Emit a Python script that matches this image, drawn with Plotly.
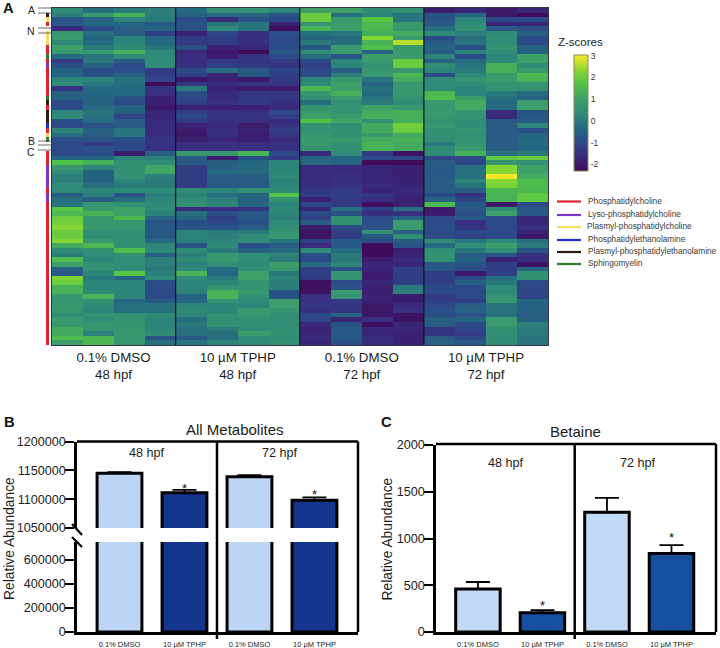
import plotly.graph_objects as go

# ---------- data ----------
z_rows = [
[0.3,-0.2,0.0,0.1,-0.3,0.5,0.6,0.2,1.0,1.0,0.4,0.5,-1.9,-1.7,-2.0,-1.7],
[0.1,0.8,1.4,0.1,-0.5,-0.3,-0.4,-0.8,2.0,-0.2,0.2,-0.1,-0.8,-0.4,-2.0,-2.3],
[-0.8,-0.4,0.2,0.0,-1.0,-1.6,-0.8,-1.0,2.0,0.8,1.8,-0.1,-0.8,0.2,-1.0,-1.0],
[-0.7,-0.3,-0.4,-0.7,-0.8,-0.1,-0.1,-1.8,0.6,0.9,1.5,0.8,-0.7,0.4,-1.7,-1.7],
[-1.6,-1.0,-0.6,-0.4,-0.9,0.3,-0.1,-2.2,1.4,0.9,1.5,0.7,-0.2,0.5,-0.7,-0.9],
[0.7,-0.2,-0.6,-1.2,-1.8,-1.1,-1.5,-0.9,-0.2,-0.1,1.3,1.2,0.3,0.1,0.3,-0.5],
[0.8,-0.4,0.2,-0.4,-1.3,-1.2,-1.5,-1.0,-0.4,-0.3,2.3,0.8,-1.0,-0.2,0.4,-1.0],
[0.3,-0.3,0.2,-0.3,-1.3,-1.2,-1.5,-1.0,0.0,-0.2,1.4,2.6,-0.7,-0.1,0.3,-1.0],
[1.0,0.0,0.3,-0.1,-0.9,-1.8,-1.7,-0.9,-0.7,0.8,1.6,0.8,-0.4,-0.9,0.6,-0.5],
[0.8,0.7,1.3,0.3,-1.7,-2.0,-2.3,-0.7,0.4,0.8,-0.5,0.8,-0.7,0.2,0.4,-0.5],
[-0.3,-0.1,0.3,0.3,-1.5,-1.9,-1.4,-1.0,-0.2,-0.8,0.9,0.8,0.2,-1.0,0.2,1.0],
[-1.3,0.0,-0.6,0.3,-1.6,-1.3,-1.4,-1.3,-1.0,0.2,0.8,2.0,-0.5,-0.3,0.3,1.0],
[-0.9,-0.5,-1.0,0.3,-1.5,-1.2,-1.3,-1.4,-1.2,0.2,0.5,2.0,0.4,-0.1,1.3,0.3],
[-0.5,-1.0,-0.9,-1.3,-1.0,-0.2,-0.7,-1.1,-1.0,-0.6,0.7,0.7,0.2,0.0,1.3,0.8],
[-0.4,-0.8,-0.5,-1.3,-1.2,-1.7,-0.7,-1.2,-1.0,0.1,0.7,1.5,-1.0,0.3,0.8,1.5],
[0.2,0.2,-0.2,-1.1,-2.0,-1.8,-2.0,-1.3,0.2,0.7,-0.1,1.2,0.3,0.6,0.8,1.4],
[0.4,-0.1,-0.2,-2.4,-1.3,-1.6,-1.4,-1.4,0.3,1.0,-0.4,0.7,0.3,0.3,0.6,0.6],
[-1.4,-0.3,-0.3,-1.4,0.0,-1.8,-1.9,-1.9,1.5,0.9,-0.2,0.7,0.3,0.2,0.6,0.6],
[-0.5,-0.4,-0.3,-1.5,-0.9,-1.6,-1.4,-1.4,0.7,1.3,-0.3,0.7,1.5,0.2,0.0,-0.3],
[-0.5,-0.5,-0.8,-1.8,-1.0,-1.6,-1.3,-1.4,0.5,0.8,-0.1,0.6,1.6,0.9,-0.2,-0.5],
[-1.0,-0.5,-1.0,-1.8,-1.2,-1.5,-1.3,-1.5,-0.2,0.5,0.0,0.3,0.8,1.2,-0.3,0.9],
[-1.0,-0.3,-0.5,-2.0,-1.8,-1.8,-1.8,-1.6,0.6,0.6,1.0,0.7,0.7,1.2,-0.3,1.0],
[0.2,-0.1,-0.5,-1.7,-1.2,-1.5,-1.5,-1.0,0.8,0.6,1.2,1.3,0.8,0.6,-1.6,-0.8],
[0.3,-0.2,-1.1,-1.7,-1.0,-1.4,-1.4,-1.2,1.0,0.8,1.3,1.3,0.7,0.6,-1.6,-0.7],
[-0.9,-0.3,-0.6,-1.6,-1.3,-1.5,-1.5,-1.6,1.7,1.1,0.5,1.3,0.6,0.4,-0.7,-0.6],
[-1.0,-0.8,-0.7,-1.6,-1.8,-1.6,-1.9,-1.4,0.6,0.4,1.2,2.1,0.7,0.4,-0.6,0.2],
[0.2,-0.5,-0.1,-1.6,-1.9,-1.5,-1.8,-1.2,0.5,0.5,1.2,2.0,0.5,0.6,-0.6,-0.9],
[-0.2,-0.6,-0.1,-1.6,-2.0,-1.5,-1.9,-1.4,0.7,0.5,0.8,1.2,0.5,0.4,-0.6,-0.4],
[-0.9,-0.8,-0.9,-1.4,-1.8,-1.7,-1.8,-1.6,0.8,0.7,1.2,1.3,0.4,0.6,-0.6,-0.4],
[-1.0,-1.3,-1.1,-1.4,-1.5,-1.5,-1.5,-1.5,0.7,0.5,1.4,1.2,0.0,0.6,-0.6,-0.3],
[-1.0,-0.9,-1.0,-1.5,-1.5,-1.5,-1.5,-1.5,0.6,0.5,1.4,1.2,0.3,0.8,-0.6,-0.4],
[-1.0,-0.9,-1.9,-0.5,0.7,0.7,1.4,-1.0,-1.6,0.3,-1.3,-2.1,0.3,1.3,-0.2,0.0],
[-0.4,-0.4,0.2,0.1,-0.7,-1.9,-0.9,-1.3,-0.4,-0.4,-1.0,-1.1,-1.1,-1.0,1.9,2.0],
[1.7,1.3,0.5,0.4,-0.7,-0.6,-0.4,0.2,-0.3,-0.4,-2.3,-2.4,-0.6,-1.1,0.7,0.5],
[0.7,0.2,0.5,1.1,-1.2,-0.5,-0.3,0.2,-1.6,-1.6,-1.7,-1.8,-0.7,-0.2,2.3,1.0],
[0.3,-0.5,0.5,1.1,-1.2,-0.3,-0.3,0.2,-1.6,-1.6,-1.7,-1.8,-0.7,-0.2,2.3,1.0],
[0.1,-0.5,0.5,0.1,-1.2,-0.6,-0.6,0.3,-1.6,-1.5,-1.7,-1.8,-0.7,-0.2,3.0,1.2],
[0.1,-0.5,0.2,0.0,-1.2,-0.7,-0.6,0.1,-1.6,-1.5,-1.7,-1.8,-0.6,0.2,2.3,1.6],
[0.3,-0.2,0.0,0.0,-1.3,-0.7,-0.7,0.2,-1.5,-1.4,-1.6,-1.7,-0.6,-0.1,2.2,1.6],
[0.3,0.2,0.3,0.3,0.3,0.2,0.5,0.3,-1.4,-1.3,-1.8,-1.6,-0.6,-0.6,1.5,1.5],
[-0.6,0.1,-0.8,0.1,0.2,-0.2,-0.4,1.7,-1.2,-1.2,-1.4,-1.7,-1.0,-1.5,1.4,1.9],
[-0.2,-0.6,-0.2,0.2,0.3,0.1,-0.5,0.6,-1.8,-1.3,-1.5,-1.8,-0.5,-1.1,1.4,1.9],
[-0.1,0.6,0.5,0.3,0.5,0.2,-0.4,0.2,-1.1,-1.3,-2.2,-1.8,1.5,-0.7,-2.0,-1.0],
[1.8,0.8,1.0,0.3,-1.6,-1.6,-1.4,0.3,-1.7,-0.2,-1.2,-0.2,-2.0,-0.7,0.4,-0.7],
[1.5,1.4,1.0,0.1,-0.2,-0.9,-0.7,0.2,-1.0,-0.8,-1.5,-1.5,-1.9,-0.9,1.0,-0.7],
[2.0,0.7,1.5,-0.4,-0.4,-1.2,-0.7,0.1,-1.2,0.5,-1.0,-0.5,-1.0,-0.7,-1.0,-1.7],
[2.1,0.7,0.7,-0.8,-0.9,-1.1,-0.9,0.3,-0.6,0.5,-0.9,0.9,-1.0,-1.5,-1.0,-1.7],
[2.3,0.8,0.7,-0.7,-0.8,-0.8,-0.6,0.4,-1.9,-1.0,-0.8,0.8,-0.9,-1.4,-1.1,-1.5],
[2.0,0.4,0.5,-0.7,0.2,0.0,0.0,0.6,-2.1,-1.2,0.4,-0.5,-1.0,-1.0,-1.0,-1.8],
[2.0,0.4,0.4,-0.7,0.2,0.1,0.3,0.7,-2.1,-1.2,-0.7,0.4,-0.9,-1.2,-1.0,-2.0],
[2.3,0.7,0.5,-0.3,0.1,0.2,0.4,-0.1,-1.2,-0.7,-1.0,-0.6,0.3,-0.1,0.3,-0.2],
[1.2,1.5,0.5,0.2,-0.8,0.3,-0.9,-0.6,-1.6,-0.7,-2.4,-0.8,-0.3,0.4,0.9,0.0],
[0.3,0.5,1.6,0.3,0.3,0.0,-0.5,-0.3,0.3,-0.3,-2.3,-1.9,0.4,-0.1,0.4,-0.8],
[0.1,0.4,0.5,-0.5,0.1,0.7,0.5,0.2,-0.9,0.0,-2.3,-1.7,0.6,-0.6,-0.8,-1.5],
[1.6,0.2,0.4,0.1,0.3,0.8,0.4,0.0,-1.0,0.0,-1.9,-1.6,0.5,-0.5,-1.8,-1.5],
[1.0,0.5,0.4,0.1,0.1,0.4,0.3,0.9,-0.3,0.2,-1.7,-1.7,-0.7,-0.8,-1.2,-2.1],
[-0.5,0.5,0.3,0.0,0.3,-0.3,0.4,0.7,-1.2,-0.8,-1.7,-1.2,-0.7,-1.0,-1.2,-0.4],
[-0.7,0.2,1.8,0.1,1.4,-0.4,1.0,0.0,-1.2,0.6,-1.9,-1.2,-1.2,-2.0,-1.2,0.5],
[2.2,0.0,-0.4,0.3,0.3,0.0,1.0,0.2,-1.3,0.6,-1.9,-1.2,-1.2,-1.0,-0.2,0.5],
[2.0,0.2,0.2,-0.9,0.2,0.2,0.6,0.1,-2.2,-1.0,-1.7,-1.2,-1.2,-0.5,0.0,-1.0],
[1.3,0.2,0.2,-1.0,0.2,0.6,0.6,0.1,-2.2,-0.8,-1.8,0.0,-1.0,-1.0,0.3,-1.1],
[1.4,0.3,0.2,-1.0,0.1,1.4,0.7,-0.9,-2.1,0.8,-1.8,0.1,-1.0,-1.1,0.3,-1.1],
[0.7,1.4,0.2,-1.0,-0.5,1.4,0.5,-0.8,-1.5,0.6,-1.8,-1.9,-1.3,-1.0,0.6,-1.1],
[0.6,0.5,-0.4,-0.7,-0.4,0.5,0.3,0.9,-1.5,-1.3,-1.8,-1.9,-1.2,-1.2,0.7,-0.4],
[0.7,0.3,-0.2,-0.2,0.2,0.2,0.2,0.9,-1.3,-1.4,-2.0,-1.6,-1.0,-0.6,-0.1,-0.5],
[0.7,0.2,-0.2,-0.2,0.3,0.2,0.8,0.6,-1.5,-1.4,-2.0,-1.5,-0.9,-0.5,-0.1,-0.5],
[0.4,0.6,0.5,0.3,0.2,0.5,0.7,0.4,-1.0,-0.4,-2.0,-2.1,-0.9,-0.8,-0.2,-0.6],
[0.8,0.4,0.6,0.2,-0.2,0.5,0.5,0.4,-1.1,-1.7,-1.5,-2.1,-0.6,-0.4,0.8,-0.5],
[0.7,0.7,0.6,0.2,0.0,0.5,0.5,0.4,-1.6,-0.8,-2.2,-1.7,-0.6,-1.0,0.8,0.1],
[1.2,0.6,0.7,0.2,-0.2,0.0,0.4,0.5,-1.8,-0.7,-1.7,-1.7,-1.4,-1.1,0.5,0.0],
[1.2,0.1,0.7,0.4,-0.2,-0.2,0.9,0.5,-1.7,-0.7,-1.7,-1.8,-1.4,-1.3,0.4,0.0],
[1.6,1.5,0.7,-0.8,-0.7,-0.2,0.3,0.4,-1.6,-0.7,-1.6,-1.8,-0.6,-1.0,0.4,-0.1],
[1.0,1.5,0.7,-0.2,-0.1,0.2,0.3,0.5,-1.7,-0.9,-1.6,-1.8,-0.5,-0.7,0.4,-0.1],
]
# row -> lipid class index (None = not annotated)
N = None
strip_classes = [N,4,2,0,N,2,2,2,0,0,5,0,1,0,0,0,0,0,0,5,4,0,4,4,4,3,0,2,5,N,N,
                 0,0,0,1,1,1,1,1,0,1,1] + [0]*31

class_names = ["Phosphatidylcholine","Lyso-phosphatidylcholine","Plasmyl-phosphatidylcholine",
               "Phosphatidylethanolamine","Plasmyl-phosphatidylethanolamine","Sphingomyelin"]
class_colors = ["#e0242c","#7b35c9","#f6dc62","#1f2fc0","#2a1a10","#2d7a2d"]

heat_labels = ["0.1% DMSO<br>48 hpf","10 µM TPHP<br>48 hpf","0.1% DMSO<br>72 hpf","10 µM TPHP<br>72 hpf"]
bar_labels = ["0.1% DMSO","10 µM TPHP","0.1% DMSO","10 µM TPHP"]

all_values = [1145000,1111000,1139000,1098000]
all_errors = [2000,5000,2500,5000]
all_colors = ["#bcd5f5","#14368f","#bcd5f5","#14368f"]
all_stars  = [None,1124000,None,1112500]

bet_values = [460,205,1280,840]
bet_errors = [75,30,155,90]
bet_colors = ["#c3daf6","#164f9e","#c3daf6","#164f9e"]
bet_stars  = [None,314,None,1040]

# ---------- helpers ----------
W, H = 720, 648
FONT = "Liberation Sans"
INK = "#1c1c1c"
def fx(p): return p / W
def fy(p): return 1 - p / H
def dx(a, b): return [a / W, b / W]
def dy(top, bottom): return [1 - bottom / H, 1 - top / H]

scale_lo, scale_hi = -2.3, 3.03
stops = [(-2.3,"#3f0a5a"),(-1.5,"#382f80"),(-1.0,"#2b4a87"),(-0.3,"#256a80"),(0.3,"#2f8a78"),
         (1.0,"#3ea068"),(1.7,"#50c248"),(2.3,"#84d634"),(3.03,"#fde725")]
colorscale = [[(v - scale_lo) / (scale_hi - scale_lo), c] for v, c in stops]

fig = go.Figure()

# heatmap
fig.add_trace(go.Heatmap(
    z=z_rows, xaxis="x", yaxis="y", zmin=scale_lo, zmax=scale_hi, colorscale=colorscale,
    hoverinfo="skip",
    colorbar=dict(x=fx(574), xanchor="left", y=fy(55), yanchor="top", lenmode="pixels", len=116,
                  thicknessmode="pixels", thickness=14, xpad=0, ypad=0, borderwidth=0,
                  outlinecolor="#8a8a55", outlinewidth=1, ticks="", tickvals=[-2,-1,0,1,2,3],
                  ticktext=["-2","-1","0","1","2","3"],
                  tickfont=dict(family=FONT, size=8.5, color="#333"))))

# lipid class strip
n_cls = len(class_colors)
strip_scale = []
for i, c in enumerate(class_colors):
    strip_scale += [[i / n_cls, c], [(i + 1) / n_cls, c]]
fig.add_trace(go.Heatmap(z=[[v] for v in strip_classes], xaxis="x2", yaxis="y2", zmin=0, zmax=n_cls,
                         colorscale=strip_scale, showscale=False, hoverinfo="skip"))

# All Metabolites: two clipped copies for the broken axis
for ya in ("y3", "y4"):
    fig.add_trace(go.Bar(x=list(range(4)), y=all_values, xaxis="x3", yaxis=ya, width=0.69,
                         marker=dict(color=all_colors, line=dict(color="black", width=3)),
                         error_y=dict(type="data", symmetric=False, array=all_errors,
                                      arrayminus=[0]*4, color="black", thickness=1.8, width=12),
                         showlegend=False, hoverinfo="skip"))
# Betaine
fig.add_trace(go.Bar(x=list(range(4)), y=bet_values, xaxis="x4", yaxis="y5", width=0.69,
                     marker=dict(color=bet_colors, line=dict(color="black", width=3)),
                     error_y=dict(type="data", symmetric=False, array=bet_errors,
                                  arrayminus=[0]*4, color="black", thickness=1.8, width=12),
                     showlegend=False, hoverinfo="skip"))

tick_font = dict(family=FONT, size=12.6, color=INK)
small_font = dict(family=FONT, size=7.5, color=INK)
yax = dict(showgrid=False, zeroline=False, showline=True, linecolor="black", linewidth=2.5,
           ticks="outside", ticklen=9, tickwidth=2, tickcolor="black", tickfont=tick_font,
           ticklabelstandoff=-3, separatethousands=False, tickformat="d")
xbar = dict(showgrid=False, zeroline=False, showline=True, linecolor="black", linewidth=2.5,
            ticks="outside", ticklen=3, tickcolor="rgba(0,0,0,0)", tickfont=small_font,
            tickvals=list(range(4)), ticktext=bar_labels)

fig.update_layout(
    width=W, height=H, margin=dict(l=0, r=0, t=0, b=0, autoexpand=False), autosize=False,
    paper_bgcolor="white", plot_bgcolor="white", showlegend=False, barmode="overlay",
    font=dict(family=FONT, color=INK),
    xaxis=dict(domain=dx(51.5, 548), range=[-0.5, 15.5], showgrid=False, zeroline=False,
               showline=True, mirror=True, linecolor="#334", linewidth=1, ticks="", anchor="y",
               tickvals=[1.5, 5.5, 9.5, 13.5], ticktext=heat_labels,
               tickfont=dict(family=FONT, size=13.3, color=INK)),
    yaxis=dict(domain=dy(8, 345), range=[72.5, -0.5], showgrid=False, zeroline=False,
               showline=True, mirror=True, linecolor="#334", linewidth=1, showticklabels=False,
               ticks="", anchor="x"),
    xaxis2=dict(domain=dx(46, 49), range=[-0.5, 0.5], visible=False, anchor="y2"),
    yaxis2=dict(domain=dy(8, 345), range=[72.5, -0.5], visible=False, anchor="x2"),
    xaxis3=dict(domain=dx(77, 358), range=[-0.654, 3.67], anchor="y4", **xbar),
    yaxis3=dict(domain=dy(441.5, 528), range=[1050000, 1200000], anchor="x3",
                tickvals=[1050000,1100000,1150000,1200000], **yax),
    yaxis4=dict(domain=dy(542, 632), range=[0, 748000], anchor="x3",
                tickvals=[0,200000,400000,600000], **yax),
    xaxis4=dict(domain=dx(436, 716), range=[-0.65, 3.69], anchor="y5", **xbar),
    yaxis5=dict(domain=dy(445, 632), range=[0, 2000], anchor="x4",
                tickvals=[0,500,1000,1500,2000], **yax),
)

shapes, notes = [], []
def line(x0, y0, x1, y1, color="black", width=1, xref="paper", yref="paper"):
    shapes.append(dict(type="line", x0=x0, y0=y0, x1=x1, y1=y1, xref=xref, yref=yref,
                       line=dict(color=color, width=width), layer="above"))
def text(t, x, y, size, anchor="center", color=INK, bold=False, angle=0):
    notes.append(dict(text=f"<b>{t}</b>" if bold else t, x=fx(x), y=fy(y), xref="paper", yref="paper",
                      showarrow=False, xanchor=anchor, yanchor="middle", textangle=angle,
                      font=dict(family=FONT, size=size, color=color)))

# heatmap separators
for sep in (3.5, 7.5, 11.5):
    line(sep, 0, sep, 1, color="#10141c", width=1.2, xref="x", yref="y domain")

# row brackets
for yp in (8, 13, 28, 33, 141, 145, 150):
    line(fx(38), fy(yp), fx(52), fy(yp), color="#444", width=0.8)
for t, yp in (("A", 10), ("N", 31), ("B", 141), ("C", 152)):
    text(t, 31, yp, 10.5, color="#222")

# panel letters
text("A", 8, 8, 14.8, bold=True, color="#111")
text("B", 9, 422, 14.8, bold=True, color="#111")
text("C", 386, 422, 14.8, bold=True, color="#111")

# class legend
legend_y = [201.5, 215, 227, 240, 252, 264]
legend_tx = [586, 586, 585, 586, 586, 586]
for name, color, yp, tx in zip(class_names, class_colors, legend_y, legend_tx):
    line(fx(557), fy(yp), fx(581), fy(yp), color=color, width=2.2)
    text(name, tx, yp - 1, 8.3, anchor="left", color="#3a3a3a")
text("Z-scores", 580, 42, 11.5, color="#222")

# panel B decorations
line(fx(77), fy(441.5), fx(358), fy(441.5), width=2.5)
line(fx(358), fy(441.5), fx(358), fy(632), width=2.5)
line(1.5, fy(441.5), 1.5, fy(639), width=2.5, xref="x3")
line(fx(72), fy(524), fx(82), fy(535), width=2.2)
line(fx(72), fy(537), fx(82), fy(547), width=2.2)
text("All Metabolites", 235, 430, 15)
text("48 hpf", 147, 453, 12.6)
text("72 hpf", 280, 453, 12.6)
text("Relative Abundance", 9, 539, 13.8, angle=-90)

# panel C decorations
line(fx(436), fy(444), fx(716), fy(444), width=2.5)
line(fx(716), fy(444), fx(716), fy(632), width=2.5)
line(1.5, fy(444), 1.5, fy(639), width=2.5, xref="x4")
text("Betaine", 575, 431, 15)
text("48 hpf", 506, 463, 12.6)
text("72 hpf", 638, 463, 12.6)
text("Relative Abundance", 386.5, 539, 13.8, angle=-90)

# significance stars
for vals, xr, yr in ((all_stars, "x3", "y3"), (bet_stars, "x4", "y5")):
    for i, v in enumerate(vals):
        if v is not None:
            notes.append(dict(text="*", x=i, y=v, xref=xr, yref=yr, showarrow=False, yshift=-3,
                              font=dict(family=FONT, size=13, color="#111")))

fig.update_layout(shapes=shapes, annotations=notes)
fig.write_html("out.html", config=dict(displayModeBar=False),
               post_script="document.body.style.margin='0';")
